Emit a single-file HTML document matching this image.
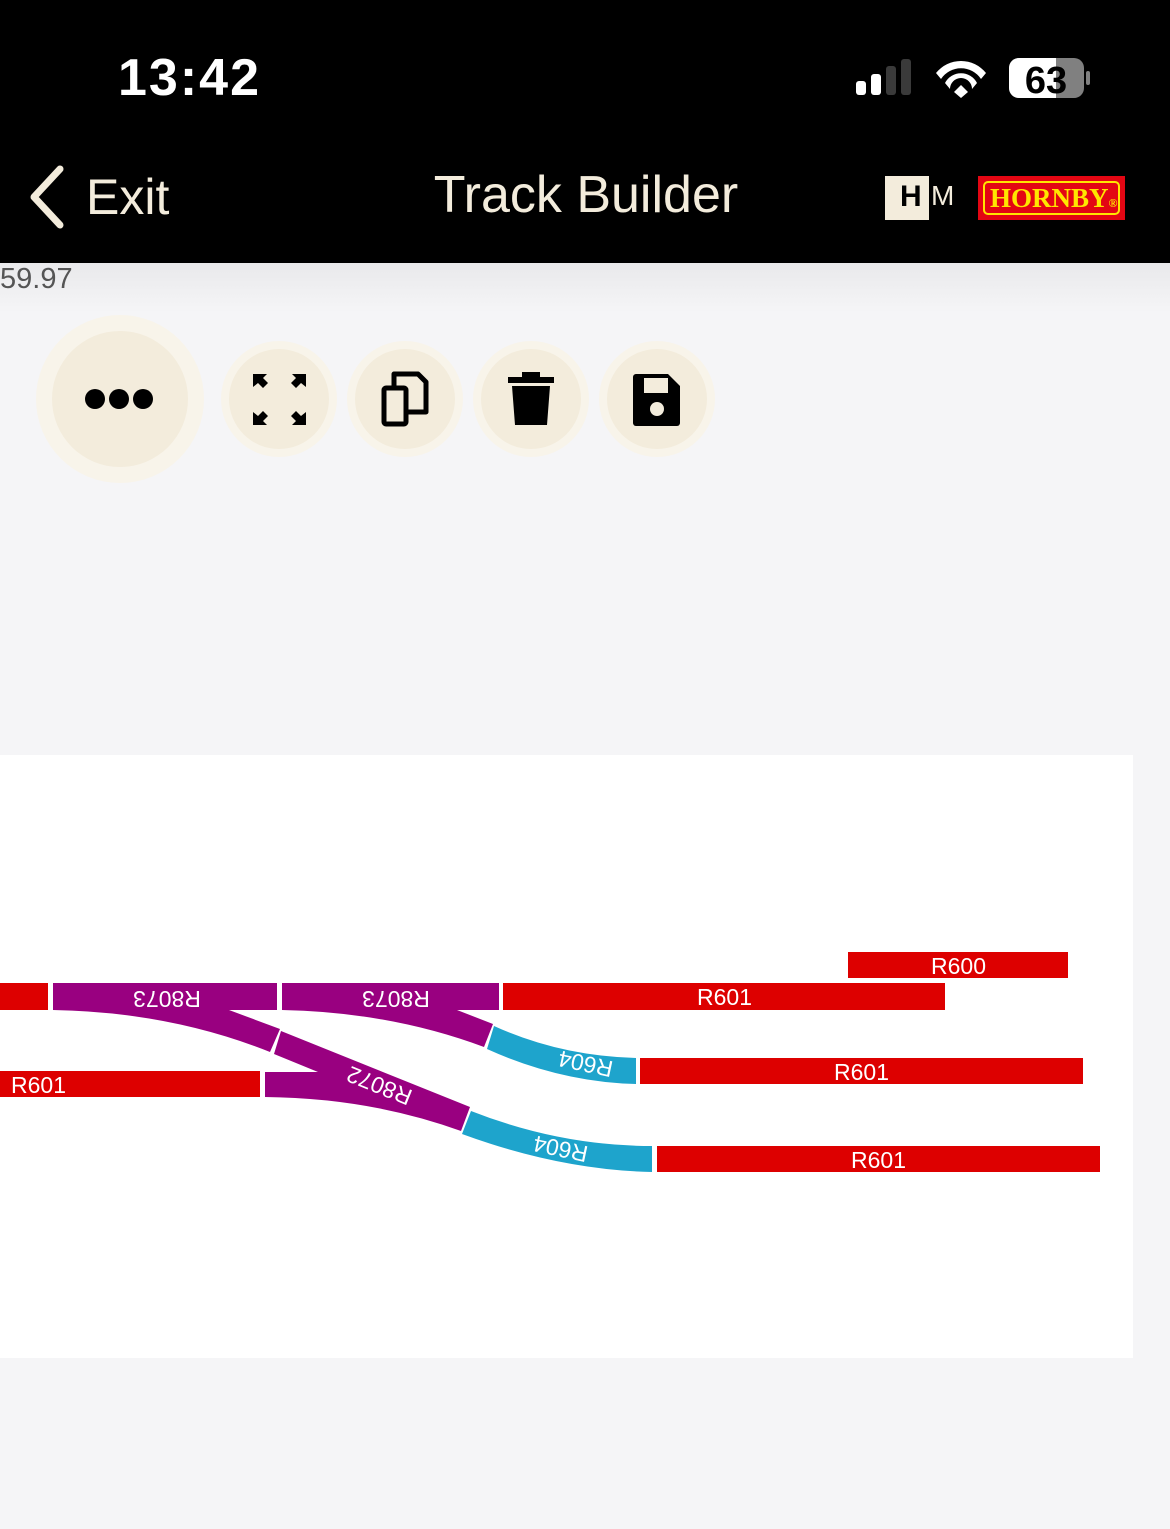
<!DOCTYPE html>
<html><head><meta charset="utf-8"><style>
html,body{margin:0;padding:0}
body{width:1170px;height:1529px;background:#f5f5f7;position:relative;overflow:hidden;font-family:"Liberation Sans",sans-serif}
#hdr{position:absolute;left:0;top:0;width:1170px;height:263px;background:#000}
.abs{position:absolute}
.btn{position:absolute;border-radius:50%;background:#f3ecdc;box-shadow:0 0 0 8px #f8f4ea}
</style></head><body>
<div id="hdr">
  <div class="abs" style="left:118px;top:48px;color:#fff;font-size:52px;font-weight:bold;letter-spacing:2px">13:42</div>
  <svg class="abs" style="left:850px;top:55px" width="250" height="50">
    <rect x="6" y="26" width="10" height="14" rx="3" fill="#fff"/>
    <rect x="21" y="19" width="10" height="21" rx="3" fill="#fff"/>
    <rect x="36" y="11" width="10" height="29" rx="3" fill="#3a3a3a"/>
    <rect x="51" y="4" width="10" height="36" rx="3" fill="#3a3a3a"/>
    <path d="M86 18 A32 32 0 0 1 136 18 L131 24 A24 24 0 0 0 91 24 Z" fill="#fff"/>
    <path d="M95 28 A18 18 0 0 1 127 28 L122 34 A11 11 0 0 0 100 34 Z" fill="#fff"/>
    <path d="M104 37 L111 30 L118 37 L111 43 Z" fill="#fff"/>
    <rect x="159" y="3" width="75" height="40" rx="10" fill="#808080"/>
    <path d="M169 3 H206 V43 H169 A10 10 0 0 1 159 33 V13 A10 10 0 0 1 169 3Z" fill="#fff"/>
    <rect x="236" y="16" width="4" height="14" rx="2" fill="#808080"/>
    <text x="196" y="38" text-anchor="middle" font-size="38" font-weight="bold" fill="#000" font-family="Liberation Sans">63</text>
  </svg>
  <svg class="abs" style="left:26px;top:165px" width="44" height="64"><path d="M34 4 L8 32 L34 60" stroke="#f3ecdc" stroke-width="7" fill="none" stroke-linecap="round" stroke-linejoin="round"/></svg>
  <div class="abs" style="left:86px;top:168px;color:#f3ecdc;font-size:50px">Exit</div>
  <div class="abs" style="left:376px;top:165px;width:420px;text-align:center;color:#f3ecdc;font-size:52px">Track Builder</div>
  <div class="abs" style="left:885px;top:176px;width:44px;height:44px;background:#f3ecdc"></div>
  <div class="abs" style="left:900px;top:180px;font-size:30px;font-weight:bold;color:#000">H</div>
  <div class="abs" style="left:931px;top:180px;font-size:28px;color:#f3ecdc">M</div>
  <div class="abs" style="left:978px;top:176px;width:147px;height:44px;background:#e30613"></div>
  <div class="abs" style="left:983px;top:181px;width:133px;height:30px;border:2px solid #ffe600;border-radius:5px"></div>
  <div class="abs" style="left:990px;top:183px;font-family:'Liberation Serif',serif;font-weight:bold;font-size:27px;color:#ffe600">HORNBY<span style="font-size:12px">®</span></div>
</div>
<div class="abs" style="left:0;top:263px;width:1170px;height:50px;background:linear-gradient(#e9e9eb,#f5f5f7)"></div>
<div class="abs" style="left:0;top:263px;font-size:29px;color:#555">59.97</div>

<div class="btn" style="left:52px;top:331px;width:136px;height:136px;box-shadow:0 0 0 16px #f8f4ea"></div>
<div class="btn" style="left:229px;top:349px;width:100px;height:100px"></div>
<div class="btn" style="left:355px;top:349px;width:100px;height:100px"></div>
<div class="btn" style="left:481px;top:349px;width:100px;height:100px"></div>
<div class="btn" style="left:607px;top:349px;width:100px;height:100px"></div>
<svg class="abs" style="left:0;top:300px" width="760" height="200">
  <circle cx="95" cy="99" r="10" fill="#000"/><circle cx="119" cy="99" r="10" fill="#000"/><circle cx="143" cy="99" r="10" fill="#000"/>
  <g fill="#000">
    <path d="M253 74 h14 l-4 4 5 5 -5 5 -5 -5 -5 4z"/>
    <path d="M306 74 h-14 l4 4 -5 5 5 5 5 -5 5 4z"/>
    <path d="M253 125 h14 l-4 -4 5 -5 -5 -5 -5 5 -5 -4z"/>
    <path d="M306 125 h-14 l4 -4 -5 -5 5 -5 5 5 5 -4z"/>
  </g>
  <g fill="none" stroke="#000" stroke-width="5" stroke-linejoin="round">
    <rect x="384" y="88" width="22" height="36" rx="2"/>
    <path d="M394 88 V74 H418 L426 82 V112 H406"/>
  </g>
  <path d="M508 77 h46 v6 h-46z M522 72 h18 v5 h-18z M512 86 h38 l-3 39 h-32z" fill="#000"/>
  <path d="M636 74 h32 l12 12 v37 a3 3 0 0 1 -3 3 h-41 a3 3 0 0 1 -3 -3 v-46 a3 3 0 0 1 3 -3z" fill="#000"/>
  <rect x="644" y="78" width="24" height="15" fill="#f3ecdc"/>
  <circle cx="657" cy="109" r="7" fill="#f3ecdc"/>
</svg>

<div class="abs" style="left:0;top:755px;width:1133px;height:603px;background:#fff"></div>
<svg class="abs" style="left:0;top:0" width="1170" height="1529" font-family="Liberation Sans, sans-serif" font-size="23">
  <g fill="#dd0000">
    <rect x="0" y="983" width="48" height="27"/>
    <rect x="0" y="1071" width="260" height="26"/>
    <rect x="503" y="983" width="442" height="27"/>
    <rect x="848" y="952" width="220" height="26"/>
    <rect x="640" y="1058" width="443" height="26"/>
    <rect x="657" y="1146" width="443" height="26"/>
  </g>
  <g fill="#990080">
    <path d="M53 983 H277 V1010 H229 L280 1029 L270 1052 Q170 1012 53 1010 Z"/>
    <path d="M282 983 H499 V1010 H457 L493 1024 L484 1047 Q390 1012 282 1010 Z"/>
    <path d="M281 1031 L470 1107 L461 1131 Q370 1098 265 1097 V1072 H318 L274 1054 Z"/>
  </g>
  <g fill="#1ea4cc">
    <path d="M494 1026 Q560 1056 636 1058 V1084 Q560 1082 487 1049 Z"/>
    <path d="M471 1111 Q560 1146 652 1146 V1172 Q560 1170 462 1134 Z"/>
  </g>
  <g fill="#fff">
    <text x="11" y="1093">R601</text>
    <text x="697" y="1005">R601</text>
    <text x="931" y="974">R600</text>
    <text x="834" y="1080">R601</text>
    <text x="851" y="1168">R601</text>
    <text transform="translate(167 997) rotate(180)" text-anchor="middle" dominant-baseline="middle">R8073</text>
    <text transform="translate(396 997) rotate(180)" text-anchor="middle" dominant-baseline="middle">R8073</text>
    <text transform="translate(380 1084) rotate(202)" text-anchor="middle" dominant-baseline="middle">R8072</text>
    <text transform="translate(586 1062) rotate(192)" text-anchor="middle" dominant-baseline="middle">R604</text>
    <text transform="translate(561 1147) rotate(192)" text-anchor="middle" dominant-baseline="middle">R604</text>
  </g>
</svg>
</body></html>
